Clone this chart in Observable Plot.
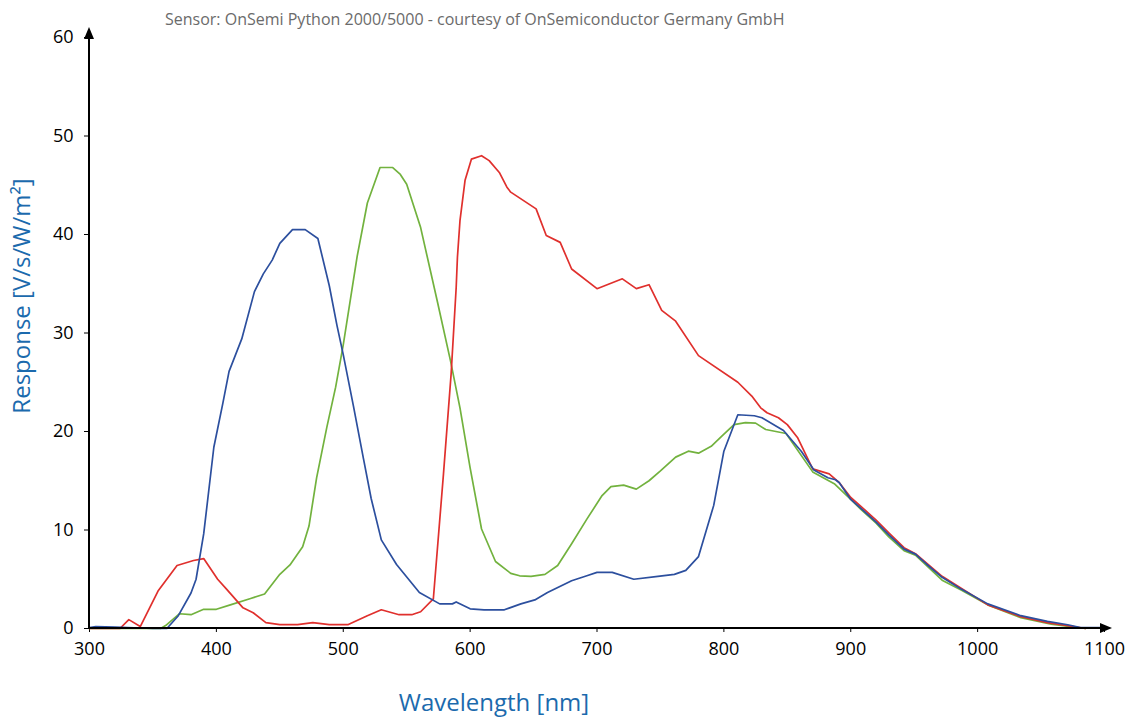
<!DOCTYPE html>
<html>
<head>
<meta charset="utf-8">
<script src="https://cdn.jsdelivr.net/npm/d3@7"></script>
<script src="https://cdn.jsdelivr.net/npm/@observablehq/plot@0.6"></script>
<style>
  html, body { margin: 0; padding: 0; background: #fff; }
  #wrap { position: relative; width: 1128px; height: 720px; }
  #title { position: absolute; left: 165px; top: 8px; font: 16px 'Open Sans', sans-serif; color: #6b6b6b; white-space: nowrap; }
</style>
</head>
<body>
<div id="wrap">
  <div id="title">Sensor: OnSemi Python 2000/5000 - courtesy of OnSemiconductor Germany GmbH</div>
</div>
<script>
const titleText = "Sensor: OnSemi Python 2000/5000 - courtesy of OnSemiconductor Germany GmbH";
const xLabel = "Wavelength [nm]";
const yLabel = "Response [V/s/W/m²]";
const xTicks = [300, 400, 500, 600, 700, 800, 900, 1000, 1100];
const yTicks = [0, 10, 20, 30, 40, 50, 60];

// [wavelength nm, response]
const blue = [
  [300,0.1],[305,0.2],[320,0.15],[330,0.1],[340,0.05],[350,0],[361,0],[370,1.3],[380,3.6],[384,5.0],
  [390,9.6],[398,18.4],[405,22.8],[410,26.1],[420,29.4],[430,34.2],[437,36.0],[444,37.4],[450,39.1],
  [460,40.5],[470,40.5],[480,39.6],[489,34.8],[495,30.8],[500,27.8],[508,22.6],[516,17.2],[522,13.2],
  [530,9.0],[542,6.5],[560,3.65],[576,2.5],[586,2.5],[589,2.7],[600,2.0],[611,1.9],[627,1.9],[640,2.5],
  [651,2.9],[661,3.65],[680,4.85],[692,5.35],[700,5.7],[712,5.7],[729,5.0],[748,5.3],[761,5.5],[770,5.9],
  [780,7.3],[792,12.5],[800,18.0],[811,21.7],[824,21.6],[830,21.4],[847,20.1],[861,18.0],[871,16.1],
  [882,15.3],[888,15.1],[891,14.8],[900,13.1],[908,12.2],[920,10.8],[930,9.5],[942,8.06],[951,7.55],
  [960,6.5],[972,5.2],[987,4.0],[1008,2.5],[1034,1.3],[1055,0.72],[1071,0.38],[1081,0.1],[1097,0.1]
];
const red = [
  [300,0],[324,0],[331,0.9],[340,0.2],[354,3.8],[369,6.4],[382,6.9],[390,7.1],[401,5.0],[408,4.0],
  [421,2.1],[429,1.6],[439,0.6],[450,0.4],[464,0.4],[476,0.6],[489,0.4],[504,0.4],[519,1.3],[530,1.9],
  [544,1.4],[554,1.4],[561,1.7],[571,3.0],[579,15.7],[585,25.8],[589,34.6],[590,37.7],[592,41.4],
  [596,45.5],[601,47.65],[609,48.0],[615,47.5],[623,46.3],[629,44.8],[632,44.3],[652,42.6],[660,39.9],
  [671,39.2],[680,36.5],[700,34.5],[720,35.5],[731,34.5],[741,34.9],[751,32.3],[762,31.2],[780,27.7],
  [811,25.0],[822,23.6],[829,22.4],[834,21.9],[843,21.4],[850,20.7],[858,19.4],[870,16.2],[883,15.7],
  [891,14.8],[900,13.3],[908,12.4],[920,11.0],[930,9.7],[942,8.2],[951,7.6],[960,6.6],[972,5.3],
  [987,4.1],[1008,2.4],[1034,1.2],[1055,0.6],[1071,0.3],[1085,0]
];
const green = [
  [300,0],[356,0],[360,0.3],[371,1.5],[380,1.4],[390,1.95],[400,1.95],[411,2.4],[427,3.05],[438,3.5],
  [450,5.5],[458,6.45],[468,8.3],[473,10.4],[479,15.3],[487,20.4],[494,24.5],[500,28.8],[511,37.8],
  [519,43.2],[529,46.8],[539,46.8],[545,46.1],[550,45.1],[561,40.7],[574,33.3],[584.5,27.2],[592,22.4],
  [600,16.3],[609,10.1],[620,6.8],[632,5.6],[639,5.35],[648,5.3],[659,5.5],[669,6.4],[680,8.6],
  [692,11.1],[704,13.5],[711,14.4],[721,14.56],[731,14.15],[741,15.0],[750,16.0],[762,17.4],[772,18.0],
  [780,17.8],[790,18.5],[799,19.6],[808,20.7],[817,20.9],[825,20.85],[833,20.2],[849,19.8],[870,15.9],
  [887,14.7],[900,13.1],[908,12.1],[920,10.7],[930,9.3],[942,7.9],[951,7.45],[972,4.9],[987,3.9],
  [1008,2.4],[1034,1.1],[1058,0.45],[1072,0.2],[1085,0]
];

const colors = { blue: "#2c4f9e", red: "#e0302d", green: "#72b23e", label: "#1b6aad" };

const plot = Plot.plot({
  width: 1128,
  height: 720,
  marginLeft: 89,
  marginRight: 24,
  marginTop: 37,
  marginBottom: 92,
  style: { fontFamily: "'Open Sans', sans-serif", fontSize: "18px", color: "#000", background: "transparent", overflow: "visible" },
  x: { domain: [300, 1100], ticks: xTicks, tickSize: 4, tickPadding: 10, tickFormat: d => String(d), label: null },
  y: { domain: [0, 60], ticks: yTicks, tickSize: 5, tickPadding: 11, tickFormat: d => String(d), label: null },
  marks: [
    Plot.line(green, { x: d => d[0], y: d => d[1], stroke: colors.green, strokeWidth: 1.7 }),
    Plot.line(red, { x: d => d[0], y: d => d[1], stroke: colors.red, strokeWidth: 1.7 }),
    Plot.line(blue, { x: d => d[0], y: d => d[1], stroke: colors.blue, strokeWidth: 1.7 }),
    Plot.text([yLabel], { text: d => d, frameAnchor: "left", textAnchor: "middle", lineAnchor: "middle", dx: -67, dy: -37, rotate: -90, fill: colors.label, fontSize: 24 }),
    Plot.text([xLabel], { text: d => d, frameAnchor: "bottom", textAnchor: "middle", lineAnchor: "middle", dx: -103, dy: 75, fill: colors.label, fontSize: 24 })
  ]
});

document.getElementById("wrap").prepend(plot);

// axis lines with arrowheads
const sx = plot.scale("x"), sy = plot.scale("y");
const x0 = sx.apply(300), xEnd = sx.apply(1100);
const y0 = sy.apply(0), yTop = sy.apply(60);
const svg = d3.select(plot);
const g = svg.append("g").attr("stroke", "#000").attr("fill", "#000");
g.append("line").attr("x1", x0).attr("x2", x0).attr("y1", y0 + 1).attr("y2", yTop - 2).attr("stroke-width", 2);
g.append("line").attr("x1", x0 - 1).attr("x2", xEnd).attr("y1", y0).attr("y2", y0).attr("stroke-width", 2);
g.append("path").attr("stroke", "none")
  .attr("d", `M${x0},${yTop - 10}L${x0 + 5},${yTop + 2}L${x0 - 5},${yTop + 2}Z`);
g.append("path").attr("stroke", "none")
  .attr("d", `M${xEnd + 8},${y0}L${xEnd - 4},${y0 - 5}L${xEnd - 4},${y0 + 5}Z`);
</script>
</body>
</html>
